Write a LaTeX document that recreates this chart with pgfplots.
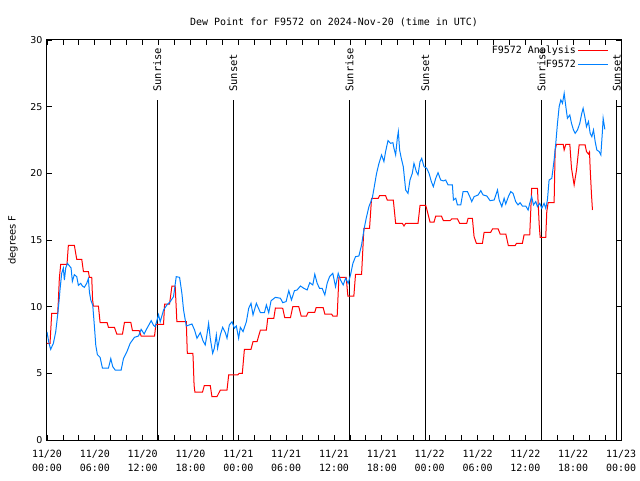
\documentclass[border=0pt]{standalone}
\usepackage{fontspec}
\setmainfont{DejaVu Sans Mono}
\newfontfamily\sansf{DejaVu Sans}
\usepackage{pgfplots}
\pgfplotsset{compat=1.18}
\definecolor{anared}{RGB}{255,0,0}
\definecolor{obsblue}{RGB}{0,128,255}

\begin{document}
\begin{tikzpicture}
\begin{axis}[
  name=ax,
  scale only axis, width=574bp, height=400bp,
  xmin=0, xmax=72, ymin=0, ymax=30,
  xtick={0,6,...,72},
  xticklabels={{11/20\\00:00},{11/20\\06:00},{11/20\\12:00},{11/20\\18:00},{11/21\\00:00},{11/21\\06:00},{11/21\\12:00},{11/21\\18:00},{11/22\\00:00},{11/22\\06:00},{11/22\\12:00},{11/22\\18:00},{11/23\\00:00}},
  xticklabel style={align=center, font=\fontsize{10}{14}\selectfont, yshift=-7bp},
  minor x tick num=2,
  ytick={0,5,...,30},
  yticklabels={0,5,10,15,20,25,30},
  yticklabel style={font=\sansf\fontsize{9.5}{11}\selectfont, xshift=-1bp},
  major tick length=5bp, minor tick length=5bp,
  tick style={black, line width=0.8bp},
  axis line style={black, line width=1bp},
  ylabel={degrees F}, ylabel style={font=\sansf\fontsize{10}{12}\selectfont, yshift=6bp},
  title={Dew Point for F9572 on 2024-Nov-20 (time in UTC)},
  title style={font=\fontsize{10}{12}\selectfont, yshift=4bp},
  legend style={at={(1,1)}, anchor=north east, xshift=-9bp, yshift=-2bp, draw=none, fill=none, font=\fontsize{10}{12}\selectfont, legend cell align=right, row sep=0.5bp},
  legend plot pos=right,
  legend image code/.code={\draw[#1] (0bp,0bp) -- (30bp,0bp);},
  clip mode=individual,
]
% sunrise / sunset lines
\addplot[black, line width=1bp, forget plot] coordinates {(13.84,0) (13.84,25.5)};
\addplot[black, line width=1bp, forget plot] coordinates {(23.37,0) (23.37,25.5)};
\addplot[black, line width=1bp, forget plot] coordinates {(37.93,0) (37.93,25.5)};
\addplot[black, line width=1bp, forget plot] coordinates {(47.46,0) (47.46,25.5)};
\addplot[black, line width=1bp, forget plot] coordinates {(62.02,0) (62.02,25.5)};
\addplot[black, line width=1bp, forget plot] coordinates {(71.48,0) (71.48,25.5)};

\addplot[anared, line width=1bp] coordinates {
(0,7.25) (0.38,7.25) (0.59,9.5) (1.34,9.5) (1.42,10.38) (1.55,12.13) (1.72,13.18) (2.51,13.18) (2.68,14.6) (3.43,14.6) (3.73,13.55) (4.36,13.55) (4.57,12.63) (5.19,12.63) (5.32,12.2) (5.61,12.2) (5.72,10.5) (5.82,10.05) (6.45,10.05) (6.66,8.8) (7.54,8.8) (7.71,8.45) (8.46,8.45) (8.75,7.95) (9.47,7.95) (9.72,8.83) (10.51,8.83) (10.72,8.2) (11.56,8.2) (11.81,7.8) (13.49,7.8) (13.66,8.68) (14.62,8.68) (14.75,10.2) (15.37,10.2) (15.67,11.55) (16.08,11.55) (16.29,8.88) (17.47,8.88) (17.60,6.5) (18.30,6.5) (18.35,5.83) (18.45,4.1) (18.55,3.6) (19.51,3.6) (19.73,4.08) (20.48,4.08) (20.69,3.25) (21.32,3.25) (21.74,3.75) (22.58,3.75) (22.79,4.88) (23.92,4.88) (24.10,5.0) (24.50,5.0) (24.76,6.8) (25.59,6.8) (25.84,7.38) (26.35,7.38) (26.77,8.25) (27.52,8.25) (27.69,9.13) (28.45,9.13) (28.65,9.9) (29.57,9.88) (29.82,9.18) (30.54,9.18) (30.83,10.0) (31.58,10.0) (31.88,9.3) (32.55,9.3) (32.76,9.58) (33.59,9.58) (33.76,9.93) (34.64,9.93) (34.85,9.45) (35.69,9.45) (35.85,9.3) (36.40,9.3) (36.61,12.2) (37.53,12.2) (37.74,10.8) (38.49,10.8) (38.70,12.43) (39.46,12.43) (39.75,15.88) (40.46,15.88) (40.71,18.13) (41.55,18.13) (41.72,18.33) (42.47,18.33) (42.68,18.0) (43.44,18.0) (43.73,16.25) (44.57,16.25) (44.78,16.05) (44.99,16.25) (46.54,16.25) (46.79,17.6) (47.50,17.6) (47.60,17.4) (48.04,16.35) (48.55,16.35) (48.76,16.8) (49.47,16.8) (49.72,16.45) (50.56,16.45) (50.77,16.58) (51.48,16.58) (51.77,16.25) (52.65,16.25) (52.82,16.63) (53.36,16.63) (53.57,15.25) (53.86,14.75) (54.62,14.75) (54.83,15.58) (55.66,15.58) (55.88,15.83) (56.59,15.83) (56.84,15.45) (57.55,15.45) (57.87,14.58) (58.72,14.58) (58.89,14.75) (59.63,14.75) (59.84,15.38) (60.55,15.38) (60.80,18.88) (61.52,18.88) (61.74,16.13) (61.86,15.2) (62.56,15.2) (62.69,17.13) (62.86,17.8) (63.61,17.8) (63.74,21.75) (63.91,22.18) (64.75,22.18) (64.87,21.75) (65.08,22.18) (65.58,22.18) (65.79,20.38) (66.12,19.13) (66.42,20.25) (66.75,22.13) (67.50,22.13) (67.67,21.63) (67.92,21.45) (68.05,21.6) (68.13,20.38) (68.30,18.38) (68.42,17.25)
};
\addlegendentry{F9572 Analysis}

\addplot[obsblue, line width=1bp] coordinates {
(0,8.1) (0.25,7.25) (0.46,6.8) (0.80,7.25) (1.09,8.1) (1.34,9.4) (1.51,10.4) (1.63,11.25) (1.84,12.5) (2.05,12.9) (2.18,12.0) (2.35,12.9) (2.56,13.25) (2.76,13.1) (3.02,12.9) (3.18,11.9) (3.43,12.4) (3.73,12.25) (3.94,11.6) (4.23,11.75) (4.44,11.55) (4.69,11.45) (4.98,11.75) (5.19,12.1) (5.32,11.1) (5.49,10.5) (5.74,10.1) (5.95,8.5) (6.12,7.1) (6.32,6.4) (6.66,6.2) (6.95,5.4) (7.71,5.4) (8.00,6.1) (8.25,5.5) (8.55,5.25) (9.30,5.25) (9.59,6.1) (10.01,6.6) (10.43,7.25) (10.97,7.7) (11.48,7.8) (11.81,8.3) (12.19,7.95) (12.52,8.35) (13.07,8.95) (13.36,8.6) (13.57,8.5) (13.99,9.4) (14.20,8.87) (14.62,9.75) (15.04,10.13) (15.46,10.38) (15.87,10.75) (16.21,12.25) (16.63,12.2) (16.92,11.0) (17.13,9.75) (17.47,8.55) (18.18,8.7) (18.51,8.25) (18.81,7.63) (19.23,8.05) (19.56,7.45) (19.85,7.13) (20.06,7.88) (20.27,8.75) (20.48,7.63) (20.78,6.5) (20.99,6.88) (21.24,7.88) (21.40,6.88) (21.74,7.88) (22.03,8.45) (22.37,8.05) (22.58,7.63) (22.87,8.63) (23.21,8.87) (23.50,8.38) (23.75,8.55) (24.04,7.63) (24.25,8.45) (24.59,8.13) (25.01,8.87) (25.30,9.88) (25.59,10.25) (25.84,9.38) (26.26,10.25) (26.77,9.55) (27.27,9.55) (27.52,10.13) (27.81,9.55) (28.11,10.45) (28.65,10.7) (29.28,10.63) (29.57,10.3) (29.99,10.38) (30.33,11.2) (30.66,10.5) (31.04,11.2) (31.37,11.25) (31.79,11.55) (32.21,11.38) (32.63,11.25) (32.96,11.8) (33.34,11.63) (33.59,12.43) (33.89,11.75) (34.18,11.38) (34.51,11.38) (34.85,10.88) (35.14,11.75) (35.44,12.25) (35.85,12.5) (36.19,11.5) (36.53,12.5) (36.82,12.0) (37.15,11.63) (37.45,12.13) (37.78,11.75) (38.07,12.38) (38.37,13.25) (38.70,13.75) (39.12,13.8) (39.46,14.63) (39.75,15.75) (40.04,16.63) (40.38,17.5) (40.80,18.13) (41.09,19.13) (41.34,20.0) (41.64,20.75) (41.97,21.38) (42.26,20.88) (42.47,21.63) (42.77,22.45) (43.10,22.25) (43.39,22.3) (43.52,21.88) (43.73,21.38) (43.94,22.63) (44.07,23.13) (44.23,21.75) (44.44,21.13) (44.69,20.5) (44.99,18.75) (45.28,18.5) (45.53,19.5) (45.82,20.0) (46.03,20.75) (46.33,20.13) (46.54,19.88) (46.79,20.88) (47.00,21.13) (47.29,20.5) (47.63,20.38) (47.92,20.0) (48.21,19.38) (48.46,19.0) (48.76,19.63) (49.05,20.05) (49.38,19.5) (49.72,19.43) (50.01,19.5) (50.31,19.13) (50.85,19.13) (50.98,18.0) (51.27,18.13) (51.48,17.63) (51.90,17.63) (52.19,18.63) (52.74,18.63) (53.03,18.25) (53.28,17.88) (53.57,18.25) (54.08,18.38) (54.41,18.7) (54.70,18.38) (55.17,18.3) (55.58,17.95) (56.09,18.0) (56.51,18.75) (56.72,18.0) (57.05,17.5) (57.34,18.13) (57.54,17.7) (57.87,18.25) (58.17,18.63) (58.46,18.5) (58.79,17.88) (59.08,17.63) (59.34,17.8) (59.63,17.55) (60.05,17.55) (60.35,17.25) (60.55,17.75) (60.80,18.25) (61.02,17.63) (61.31,17.88) (61.52,17.5) (61.81,17.75) (62.06,17.38) (62.35,17.75) (62.56,17.38) (62.77,18.0) (62.98,19.5) (63.32,19.63) (63.61,21.0) (63.82,22.25) (64.03,23.75) (64.24,25.0) (64.45,25.5) (64.66,25.25) (64.87,26.0) (65.08,25.0) (65.28,24.13) (65.58,24.38) (65.79,23.75) (66.04,23.25) (66.25,23.0) (66.54,23.25) (66.83,23.75) (67.08,24.5) (67.25,24.88) (67.46,24.25) (67.67,23.5) (67.92,23.88) (68.13,23.0) (68.34,22.75) (68.55,23.25) (68.76,22.38) (68.97,21.75) (69.26,21.63) (69.47,21.38) (69.68,23.25) (69.76,24.13) (69.89,23.63) (69.97,23.3)
};
\addlegendentry{F9572}

\node[rotate=90, anchor=west, inner sep=0pt, font=\fontsize{10.5}{12}\selectfont] at (axis cs:13.84,26.1) {Sunrise};
\node[rotate=90, anchor=west, inner sep=0pt, font=\fontsize{10.5}{12}\selectfont] at (axis cs:23.37,26.1) {Sunset};
\node[rotate=90, anchor=west, inner sep=0pt, font=\fontsize{10.5}{12}\selectfont] at (axis cs:37.93,26.1) {Sunrise};
\node[rotate=90, anchor=west, inner sep=0pt, font=\fontsize{10.5}{12}\selectfont] at (axis cs:47.46,26.1) {Sunset};
\node[rotate=90, anchor=west, inner sep=0pt, font=\fontsize{10.5}{12}\selectfont] at (axis cs:62.02,26.1) {Sunrise};
\node[rotate=90, anchor=west, inner sep=0pt, font=\fontsize{10.5}{12}\selectfont] at (axis cs:71.48,26.1) {Sunset};
\end{axis}
\pgfresetboundingbox
\path[use as bounding box] ([xshift=-47bp,yshift=-40bp]ax.south west) rectangle ([xshift=19bp,yshift=40bp]ax.north east);
\end{tikzpicture}
\end{document}
